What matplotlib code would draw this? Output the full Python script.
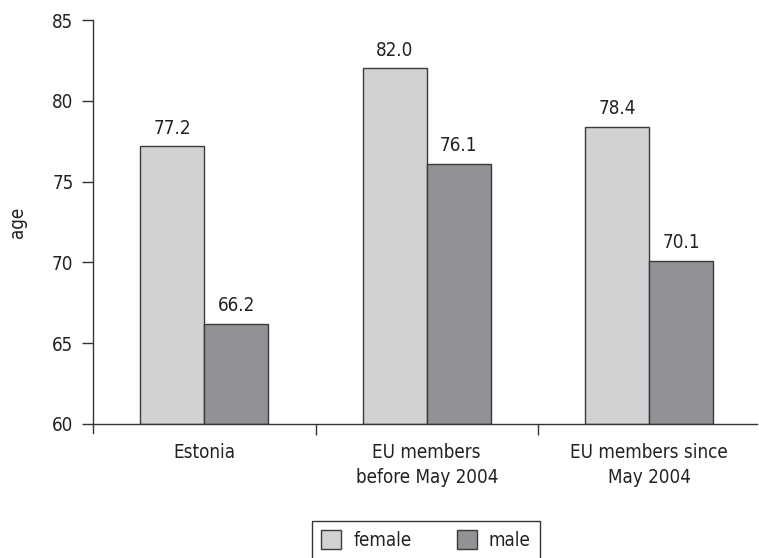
import numpy as np
import matplotlib.pyplot as plt

plt.rcParams['font.family'] = ['DejaVu Sans']
plt.rcParams['font.stretch'] = 'condensed'

categories = ['Estonia', 'EU members\nbefore May 2004', 'EU members since\nMay 2004']
female = [77.2, 82.0, 78.4]
male = [66.2, 76.1, 70.1]

fs = 13.5
txt = '#222222'

fig = plt.figure(figsize=(7.59, 5.58), dpi=100)
ax = fig.add_axes([93/759, 1 - 424/558, (757 - 93)/759, (424 - 20)/558])

x = np.arange(len(categories))
w = 0.288
b1 = ax.bar(x - w/2, [v - 60 for v in female], w, bottom=60, color='#d2d2d4',
            edgecolor='#3a3a3a', linewidth=1.0, label='female')
b2 = ax.bar(x + w/2, [v - 60 for v in male], w, bottom=60, color='#929296',
            edgecolor='#3a3a3a', linewidth=1.0, label='male')
ax.bar_label(b1, labels=['%.1f' % v for v in female], padding=6, fontsize=fs, color=txt)
ax.bar_label(b2, labels=['%.1f' % v for v in male], padding=6, fontsize=fs, color=txt)

ax.set_xlim(-0.5, -0.5 + 664/222.5)
ax.set_ylim(60, 85)
ax.set_yticks(np.arange(60, 86, 5))
ax.tick_params(axis='y', length=8, width=1, direction='out', pad=6,
               labelsize=fs, colors='#333333', labelcolor=txt)

# ticks sit between groups, labels in the middle
ax.set_xticks([0.5, 1.5])
ax.set_xticklabels([])
ax.set_xticks(x, minor=True)
ax.set_xticklabels(categories, minor=True, fontsize=fs, color=txt, linespacing=1.4)
ax.tick_params(axis='x', which='major', length=8, width=1, direction='out', colors='#333333')
ax.tick_params(axis='x', which='minor', length=0, pad=14)

for s in ['top', 'right']:
    ax.spines[s].set_visible(False)
for s in ['left', 'bottom']:
    ax.spines[s].set_color('#333333')
    ax.spines[s].set_linewidth(1.0)
ax.spines['left'].set_bounds(59.45, 85)

ax.set_ylabel('age', fontsize=fs, color=txt)
ax.yaxis.set_label_coords(-0.099, 0.5)

fig.legend(handles=[b1, b2], labels=['female', 'male'], loc='upper center',
           bbox_to_anchor=(426/759, 1 - 521/558), borderaxespad=0, ncol=2, fontsize=fs,
           frameon=True, fancybox=False, edgecolor='#333333', framealpha=1,
           handlelength=1.07, handleheight=1.15, handletextpad=0.64, columnspacing=2.4,
           borderpad=0.5, labelcolor=txt)

fig.savefig('out.png', dpi=100)
